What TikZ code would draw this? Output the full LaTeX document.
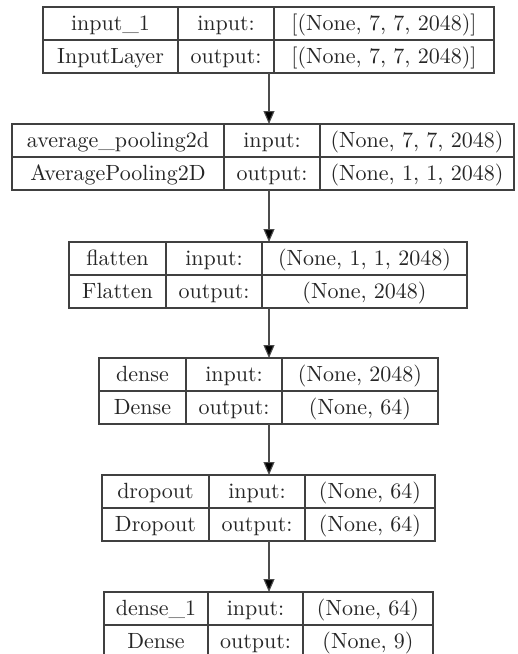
\documentclass[tikz,border=0pt]{standalone}
\usepackage{fontspec}
\newfontfamily\kfont{lmroman10-regular.otf}
\usetikzlibrary{arrows.meta}
\tikzset{
  boxline/.style={draw=black!75, line width=1.2pt},
  txt/.style={anchor=base, inner sep=0pt, text=black!85, font=\kfont\fontsize{22}{26}\selectfont},
  arr/.style={draw=black!70, line width=1.1pt, -{Triangle[length=13pt,width=11pt,fill=black]}},
}
\newcommand{\kbox}[6]{%
  \pgfmathsetmacro\kw{#6-#3}%
  \node[boxline, minimum width=\kw pt, minimum height=66pt, inner sep=0pt, outer sep=0pt, anchor=north west] (#1) at (#3,#2) {};
  \draw[boxline] (#3,#2+33) -- (#6,#2+33);
  \draw[boxline] (#4,#2) -- (#4,#2+66);
  \draw[boxline] (#5,#2) -- (#5,#2+66);
  \coordinate (#1-a1) at ({(#3+#4)/2},#2+23.5);
  \coordinate (#1-b1) at ({(#3+#4)/2},#2+56.5);
  \coordinate (#1-a2) at ({(#4+#5)/2},#2+23.5);
  \coordinate (#1-b2) at ({(#4+#5)/2},#2+56.5);
  \coordinate (#1-a3) at ({(#5+#6)/2},#2+23.5);
  \coordinate (#1-b3) at ({(#5+#6)/2},#2+56.5);
}
\newcommand{\ktext}[5]{%
  \node[txt] (#1-ta1) at (#1-a1) {#2};
  \node[txt] (#1-tb1) at (#1-b1) {#3};
  \node[txt] (#1-ta2) at (#1-a2) {input:};
  \node[txt] (#1-tb2) at (#1-b2) {output:};
  \node[txt] (#1-ta3) at (#1-a3) {#4};
  \node[txt] (#1-tb3) at (#1-b3) {#5};
}
\begin{document}
\begin{tikzpicture}[x=1pt,y=-1pt]
\clip (0,0) rectangle (518,654);
\fill[white] (0,0) rectangle (518,654);
\coordinate (ax) at (269,0);

\kbox{inp}{7}{43}{178}{274}{494}
\ktext{inp}{input\_1}{InputLayer}{[(None, 7, 7, 2048)]}{[(None, 7, 7, 2048)]}

\kbox{avg}{124}{12}{224}{320}{514}
\ktext{avg}{average\_pooling2d}{AveragePooling2D}{(None, 7, 7, 2048)}{(None, 1, 1, 2048)}

\kbox{fla}{242}{69}{166}{262}{467}
\ktext{fla}{flatten}{Flatten}{(None, 1, 1, 2048)}{(None, 2048)}

\kbox{den}{358}{99}{186}{282}{438}
\ktext{den}{dense}{Dense}{(None, 2048)}{(None, 64)}

\kbox{dro}{475}{102}{209}{305}{435}
\ktext{dro}{dropout}{Dropout}{(None, 64)}{(None, 64)}

\kbox{de1}{592}{104}{208}{303}{433}
\ktext{de1}{dense\_1}{Dense}{(None, 64)}{(None, 9)}

\draw[arr] (ax |- inp.south) -- (ax |- avg.north);
\draw[arr] (ax |- avg.south) -- (ax |- fla.north);
\draw[arr] (ax |- fla.south) -- (ax |- den.north);
\draw[arr] (ax |- den.south) -- (ax |- dro.north);
\draw[arr] (ax |- dro.south) -- (ax |- de1.north);
\end{tikzpicture}
\end{document}
